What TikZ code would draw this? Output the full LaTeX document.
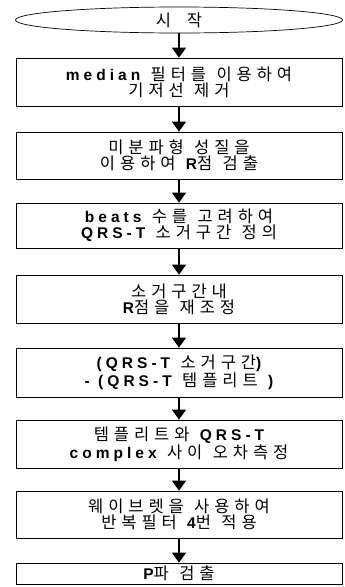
\documentclass[tikz,border=0pt]{standalone}
\usepackage{fontspec}
\usetikzlibrary{arrows.meta,shapes.geometric}
\newfontfamily\kr[LetterSpace=30,WordSpace=1.2]{Noto Sans CJK KR}
\newfontfamily\latf[LetterSpace=26]{Liberation Sans}
\newcommand{\lt}[1]{{\latf\bfseries\fontsize{15.5}{16}\selectfont #1}}
\tikzset{
  stepbox/.style={draw=black, line width=0.7pt, rectangle, minimum width=326pt, inner sep=0pt, align=center,
    font=\kr\fontsize{16.5}{16}\selectfont},
  flowarrow/.style={line width=1.5pt, -{Triangle[width=14pt,length=10pt]}, shorten <=-0.5pt},
}
\begin{document}
\begin{tikzpicture}[x=1pt,y=-1pt]
\useasboundingbox (0,0) rectangle (345,587);
\node[draw=black, line width=0.7pt, ellipse, minimum width=327pt, minimum height=26pt, inner sep=0pt,
  font=\kr\fontsize{16.5}{16}\selectfont] (start) at (179,20) {시\hspace{16pt}작};
\node[stepbox, minimum height=48pt] (b2) at (179,82) {\lt{median} 필터를 이용하여\\기저선 제거};
\node[stepbox, minimum height=47pt] (b3) at (179,155.5) {미분파형 성질을\\이용하여 \lt{R}점 검출};
\node[stepbox, minimum height=45pt] (b4) at (179,225.5) {\lt{beats} 수를 고려하여\\\lt{QRS-T} 소거구간 정의};
\node[stepbox, minimum height=48pt] (b5) at (179,299) {소거구간내\\\lt{R}점을 재조정};
\node[stepbox, minimum height=49pt] (b6) at (179,372.5) {\lt{(QRS-T} 소거구간\lt{)}\\\lt{- (QRS-T} 템플리트 \lt{)}};
\node[stepbox, minimum height=48pt] (b7) at (179,444) {템플리트와 \lt{QRS-T}\\\lt{complex} 사이 오차측정};
\node[stepbox, minimum height=47pt] (b8) at (179,514.5) {웨이브렛을 사용하여\\반복필터 \lt{4}번 적용};
\node[stepbox, minimum height=21pt] (b9) at (179,573.5) {\lt{P}파 검출};
\draw[flowarrow] (start.south) -- (b2.north);
\draw[flowarrow] (b2.south) -- (b3.north);
\draw[flowarrow] (b3.south) -- (b4.north);
\draw[flowarrow] (b4.south) -- (b5.north);
\draw[flowarrow] (b5.south) -- (b6.north);
\draw[flowarrow] (b6.south) -- (b7.north);
\draw[flowarrow] (b7.south) -- (b8.north);
\draw[flowarrow] (b8.south) -- (b9.north);
\end{tikzpicture}
\end{document}
